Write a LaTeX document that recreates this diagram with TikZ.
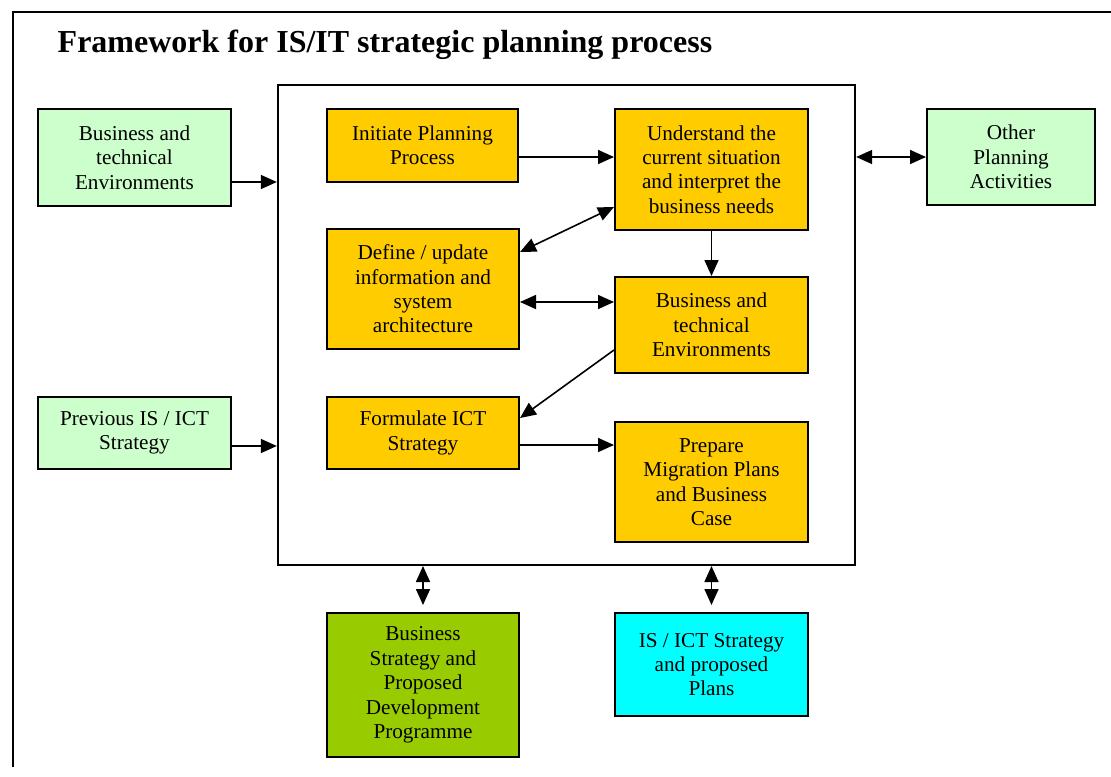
\documentclass[tikz,border=0pt]{standalone}
\usepackage{fontspec}
\setmainfont{Liberation Serif}
\usetikzlibrary{positioning}
\usetikzlibrary{calc}
\usetikzlibrary{arrows.meta}

\definecolor{stageorange}{HTML}{FFCC00}
\definecolor{inputgreen}{HTML}{CCFFCC}
\definecolor{outputgreen}{HTML}{99CC00}
\definecolor{outputcyan}{HTML}{00FFFF}

\tikzset{
	stagebox/.style={draw, line width=1.5pt, align=center, inner sep=0pt,
		font=\fontsize{15.9}{18.3}\selectfont},
	arr/.style={-{Triangle[length=12pt,width=10.5pt]}, line width=1.2pt},
	dblarr/.style={{Triangle[length=12pt,width=10.5pt]}-{Triangle[length=12pt,width=10.5pt]}, line width=1.2pt}
}

\begin{document}
\begin{tikzpicture}[x=0.75pt, y=-0.75pt]
		\useasboundingbox (0,0) rectangle (1111,776);
		\draw[line width=1.5pt] (13,767) -- (13,12) -- (1111,12);
		\node[anchor=base west, font=\fontsize{24}{28}\selectfont\bfseries] (title) at (53,52)
			{Framework for IS/IT strategic planning process};
		\node[draw, line width=1.5pt, minimum width=433pt, minimum height=360pt] (frame) at (566.5,325) {};
		\node[stagebox, fill=inputgreen, minimum width=144.75pt, minimum height=72.75pt] (envin) at (134.5,157.5)
			{Business and\\technical\\Environments};
		\node[stagebox, fill=inputgreen, minimum width=144.75pt, minimum height=54pt] (prevstrat) at (134.5,433)
			{Previous IS / ICT\\Strategy};
		\node[stagebox, fill=inputgreen, minimum width=126pt, minimum height=72pt] (other) at (1011,157)
			{Other\\Planning\\Activities};
		\node[stagebox, fill=stageorange, minimum width=143.25pt, minimum height=54.75pt] (initiate) at (422.5,145.5)
			{Initiate Planning\\Process};
		\node[stagebox, fill=stageorange, minimum width=144.75pt, minimum height=90.75pt] (understand) at (711.5,169.5)
			{Understand the\\current situation\\and interpret the\\business needs};
		\node[stagebox, fill=stageorange, minimum width=144pt, minimum height=90pt] (define) at (423,289)
			{Define / update\\information and\\system\\architecture};
		\node[stagebox, fill=stageorange, minimum width=144.75pt, minimum height=72pt] (envorange) at (711.5,325)
			{Business and\\technical\\Environments};
		\node[stagebox, fill=stageorange, minimum width=144pt, minimum height=54pt] (formulate) at (423,433)
			{Formulate ICT\\Strategy};
		\node[stagebox, fill=stageorange, minimum width=144.75pt, minimum height=90pt] (prepare) at (711.5,482)
			{Prepare\\Migration Plans\\and Business\\Case};
		\node[stagebox, fill=outputgreen, minimum width=144pt, minimum height=108pt] (bizstrat) at (423,685)
			{Business\\Strategy and\\Proposed\\Development\\Programme};
		\node[stagebox, fill=outputcyan, minimum width=144.75pt, minimum height=77.25pt] (ictstrat) at (711.5,664.5)
			{IS / ICT Strategy\\and proposed\\Plans};
		\coordinate (envinout) at ($(envin.east)+(0,24.5)$);
		\coordinate (prevout) at ($(prevstrat.east)+(0,13)$);
		\coordinate (initout) at ($(initiate.east)+(0,11.5)$);
		\coordinate (defout) at ($(define.east)+(0,13)$);
		\coordinate (formout) at ($(formulate.east)+(0,12)$);
		\coordinate (bizin) at ($(bizstrat.north)+(0,-7)$);
		\coordinate (ictin) at ($(ictstrat.north)+(0,-7)$);
		\draw[arr] (envinout) -- (envinout -| frame.west);
		\draw[arr] (prevout) -- (prevout -| frame.west);
		\draw[arr] (initout) -- (initout -| understand.west);
		\draw[dblarr] (frame.east |- other.west) -- (other.west);
		\draw[arr] (understand) -- (envorange);
		\draw[dblarr] ($(define.east)+(0,-37)$) -- ($(understand.west)+(0,37.5)$);
		\draw[dblarr] (defout) -- (defout -| envorange.west);
		\draw[arr] ($(envorange.west)+(0,25)$) -- ($(formulate.east)+(0,-15)$);
		\draw[arr] (formout) -- (formout -| prepare.west);
		\draw[dblarr] (bizin |- frame.south) -- (bizin);
		\draw[dblarr] (ictin |- frame.south) -- (ictin);
		\end{tikzpicture}
\end{document}
